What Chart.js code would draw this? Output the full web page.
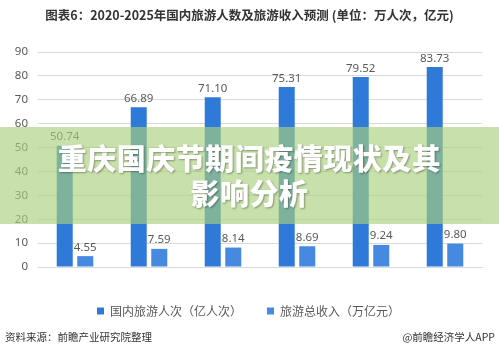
<!DOCTYPE html>
<html>
<head>
<meta charset="utf-8">
<script src="https://cdn.jsdelivr.net/npm/chart.js@4.4.0/dist/chart.umd.min.js"></script>
<style>
  html, body { margin: 0; padding: 0; background: #fff; }
  #wrap { position: relative; width: 499px; height: 355px; overflow: hidden; font-family: "Noto Sans CJK SC", "Noto Sans", sans-serif; }
  #c { position: absolute; left: 0; top: 0; }
  #title { position: absolute; left: 0; width: 499px; top: 6px; text-align: center; font-size: 12.5px; font-weight: bold; color: #333; line-height: 18px; white-space: nowrap; }
  #src { position: absolute; left: 5px; top: 329px; font-size: 10.5px; color: #333; line-height: 16px; }
  #app { position: absolute; right: 4px; top: 329px; font-size: 10.5px; color: #333; line-height: 16px; }
  #banner { position: absolute; left: 0; top: 127px; width: 499px; height: 97px; background: rgba(171,209,125,0.65); }
  #btext { position: absolute; left: 0; top: 140px; width: 499px; text-align: center; color: #fff; font-weight: 900; font-size: 29px; line-height: 35px; text-shadow: 1px 1px 2px rgba(0,0,0,0.35); letter-spacing: 0.5px; }
</style>
</head>
<body>
<div id="wrap">
  <canvas id="c" width="499" height="355"></canvas>
  <div id="title">图表6：2020-2025年国内旅游人数及旅游收入预测 (单位：万人次，亿元)</div>
  <div id="banner"></div>
  <div id="btext">重庆国庆节期间疫情现状及其<br>影响分析</div>
  <div id="src">资料来源：前瞻产业研究院整理</div>
  <div id="app">@前瞻经济学人APP</div>
</div>
<script>
const categories = ["2020E", "2021E", "2022E", "2023E", "2024E", "2025E"];
const visitors = [50.74, 66.89, 71.10, 75.31, 79.52, 83.73];
const revenue = [4.55, 7.59, 8.14, 8.69, 9.24, 9.80];
const seriesNames = ["国内旅游人次（亿人次）", "旅游总收入（万亿元）"];
const yTicks = [0, 10, 20, 30, 40, 50, 60, 70, 80, 90];

const dataLabels = {
  id: 'dataLabels',
  afterDatasetsDraw(chart) {
    const ctx = chart.ctx;
    ctx.save();
    ctx.font = '11.5px "Noto Sans", sans-serif';
    ctx.fillStyle = '#595959';
    ctx.textAlign = 'center';
    ctx.textBaseline = 'bottom';
    chart.data.datasets.forEach((ds, i) => {
      const meta = chart.getDatasetMeta(i);
      meta.data.forEach((bar, j) => {
        ctx.fillText(ds.data[j].toFixed(2), bar.x, bar.y - 3);
      });
    });
    ctx.restore();
  }
};

new Chart(document.getElementById('c'), {
  type: 'bar',
  data: {
    labels: categories,
    datasets: [
      { label: seriesNames[0], data: visitors, backgroundColor: '#2f79d9', categoryPercentage: 0.555, barPercentage: 0.78 },
      { label: seriesNames[1], data: revenue, backgroundColor: '#4689e0', categoryPercentage: 0.555, barPercentage: 0.78 }
    ]
  },
  options: {
    responsive: false,
    animation: false,
    layout: { padding: { top: 52, right: 17, left: 15, bottom: 28 } },
    scales: {
      x: {
        grid: { display: false, drawTicks: false },
        border: { color: '#d9d9d9' },
        ticks: { color: '#595959', font: { size: 11, family: '"Noto Sans", sans-serif' }, padding: 12 },
        afterFit(s) { s.height = 13; }
      },
      y: {
        min: 0, max: 90,
        afterBuildTicks(s) { s.ticks = yTicks.map(v => ({ value: v })); },
        grid: { color: '#d9d9d9', drawTicks: false },
        border: { display: false },
        ticks: { color: '#595959', font: { size: 11.5, family: '"Noto Sans", sans-serif' }, padding: 10 },
        afterFit(s) { s.width = 23; }
      }
    },
    plugins: {
      legend: {
        position: 'bottom',
        labels: { boxWidth: 7, boxHeight: 7, padding: 25, color: '#595959', font: { size: 12, family: '"Noto Sans CJK SC", sans-serif' } }
      },
      tooltip: { enabled: false }
    }
  },
  plugins: [dataLabels]
});
</script>
</body>
</html>
